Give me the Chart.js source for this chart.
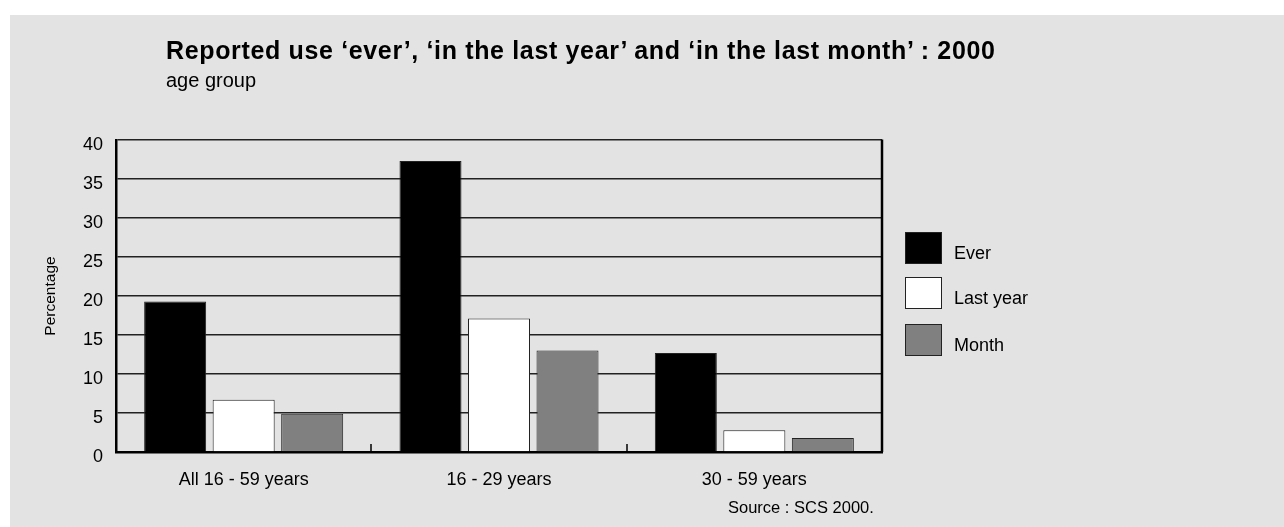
<!DOCTYPE html>
<html>
<head>
<meta charset="utf-8">
<script src="https://cdn.jsdelivr.net/npm/chart.js@4/dist/chart.umd.min.js"></script>
<style>
  body { margin: 0; background: #fff; font-family: "Liberation Sans", Arial, sans-serif; }
  #panel { position: absolute; left: 10px; top: 15px; width: 1274px; height: 512px; background: #e3e3e3; }
  #chart { position: absolute; left: 0; top: 0; }
  .txt { position: absolute; white-space: nowrap; line-height: 1; color: #000; }
  #title { left: 166px; top: 38px; font-size: 25px; font-weight: bold; letter-spacing: 0.65px; }
  #subtitle { left: 166px; top: 70px; font-size: 20px; }
  #source { left: 728px; top: 499px; font-size: 16.5px; }
  .lg-box { position: absolute; left: 905px; width: 35px; height: 30px; border: 1px solid #222; }
  .lg-text { position: absolute; left: 954px; font-size: 18px; line-height: 32px; }
</style>
</head>
<body>
<div id="panel"></div>
<canvas id="chart" width="1284" height="527"></canvas>
<div id="title" class="txt">Reported use ‘ever’, ‘in the last year’ and ‘in the last month’ : 2000</div>
<div id="subtitle" class="txt">age group</div>
<div id="source" class="txt">Source : SCS 2000.</div>
<div id="legend"></div>
<script>
const categories = ['All 16 - 59 years', '16 - 29 years', '30 - 59 years'];
const seriesNames = ['Ever', 'Last year', 'Month'];
const ever = [19.3, 37.3, 12.7];
const lastYear = [6.7, 17.1, 2.8];
const month = [4.9, 13.0, 1.8];
const yMin = 0, yMax = 40, yStep = 5;

const fills = ['#000000', '#ffffff', '#808080'];

// legend on the right, built from the series names
const legendTops = [232, 277, 324];
const legend = document.getElementById('legend');
seriesNames.forEach((name, i) => {
  const box = document.createElement('div');
  box.className = 'lg-box';
  box.style.top = legendTops[i] + 'px';
  box.style.background = fills[i];
  legend.appendChild(box);
  const t = document.createElement('div');
  t.className = 'txt lg-text';
  t.style.top = (legendTops[i] + 5) + 'px';
  t.textContent = name;
  legend.appendChild(t);
});

// small ticks between categories + right frame line
const framePlugin = {
  id: 'frame',
  afterDraw(chart) {
    const ctx = chart.ctx;
    const area = chart.chartArea;
    const x = chart.scales.x;
    ctx.save();
    ctx.strokeStyle = '#000';
    ctx.lineWidth = 1.5;
    for (let i = 1; i < categories.length; i++) {
      const px = Math.round((x.getPixelForValue(i - 1) + x.getPixelForValue(i)) / 2);
      ctx.beginPath();
      ctx.moveTo(px, area.bottom);
      ctx.lineTo(px, area.bottom - 8);
      ctx.stroke();
    }
    ctx.lineWidth = 2.5;
    ctx.beginPath();
    ctx.moveTo(area.right, area.top - 0.5);
    ctx.lineTo(area.right, area.bottom);
    ctx.stroke();
    ctx.restore();
  }
};

const barOpts = { borderWidth: 1, borderColor: '#222', categoryPercentage: 0.805, barPercentage: 0.905 };

new Chart(document.getElementById('chart'), {
  type: 'bar',
  data: {
    labels: categories,
    datasets: [
      { label: seriesNames[0], data: ever, backgroundColor: fills[0], ...barOpts },
      { label: seriesNames[1], data: lastYear, backgroundColor: fills[1], ...barOpts },
      { label: seriesNames[2], data: month, backgroundColor: fills[2], ...barOpts }
    ]
  },
  options: {
    responsive: false,
    animation: false,
    devicePixelRatio: 1,
    layout: { padding: { left: 30, top: 140, right: 402, bottom: 35 } },
    plugins: { legend: { display: false }, tooltip: { enabled: false } },
    scales: {
      x: {
        grid: { display: false },
        border: { display: true, color: '#000', width: 2.5 },
        ticks: { color: '#000', padding: 9, font: { family: '"Liberation Sans", Arial', size: 18 } },
        afterFit: (s) => { s.height = 40; }
      },
      y: {
        min: yMin,
        max: yMax,
        ticks: { stepSize: yStep, color: '#000', padding: 13, labelOffset: 5,
                 font: { family: '"Liberation Sans", Arial', size: 18 } },
        grid: { color: '#222', lineWidth: 1.5, drawTicks: false },
        border: { display: true, color: '#000', width: 2.5 },
        title: { display: true, text: 'Percentage', color: '#000', padding: { top: 11.7, bottom: 0 },
                 font: { family: '"Liberation Sans", Arial', size: 15.5 } },
        afterFit: (s) => { s.width = 86; }
      }
    }
  },
  plugins: [framePlugin]
});
</script>
</body>
</html>
